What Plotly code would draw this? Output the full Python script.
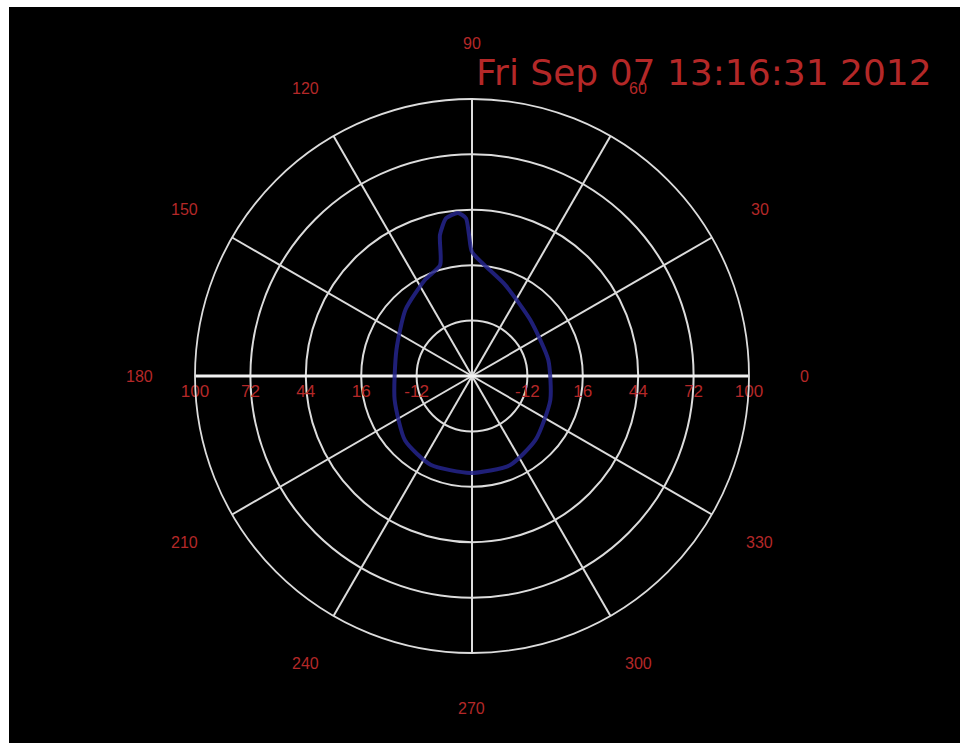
import math
import plotly.graph_objects as go

# ---- data ----
pattern_theta = [90, 91.2, 92.2, 94.9, 99.3, 102.8, 106, 116, 135, 161, 197, 224, 245, 269, 293, 315, 343, 12, 44, 70, 90]
pattern_r = [22.7, 31.2, 39.8, 42.7, 40.8, 33.1, 18.4, 14.1, 7.5, 0.4, 0.9, 7.0, 9.5, 9.0, 9.0, 5.5, 1.4, -0.6, 0.9, 9.0, 22.7]

radial_ticks = [-12, 16, 44, 72, 100]
radial_min = -40
radial_max = 100
angle_ticks = [0, 30, 60, 90, 120, 150, 180, 210, 240, 270, 300, 330]
title_text = "Fri Sep 07 13:16:31 2012"

RED = "#b42828"
GRID = "#dcdcdc"
W, H = 960, 750          # a little taller than the window; excess is cut off
CX, CY, RAD = 472, 376, 277   # polar centre / radius in pixels
dom_x = [(CX - RAD) / W, (CX + RAD) / W]
dom_y = [(H - CY - RAD) / H, (H - CY + RAD) / H]

fig = go.Figure()

# thick horizontal axis line through the centre
fig.add_trace(go.Scatterpolar(
    r=[radial_max, radial_min, radial_max], theta=[180, 0, 0],
    mode="lines", line=dict(color="#f2f2f2", width=3),
    hoverinfo="skip", showlegend=False))

# pattern curve
fig.add_trace(go.Scatterpolar(
    r=pattern_r, theta=pattern_theta, mode="lines",
    line=dict(color="rgba(36,36,140,0.85)", width=4, shape="spline", smoothing=0.6),
    showlegend=False))

# radial tick labels on both sides (invisible markers push the text down)
fig.add_trace(go.Scatterpolar(
    r=radial_ticks + radial_ticks,
    theta=[0] * len(radial_ticks) + [180] * len(radial_ticks),
    mode="markers+text", text=[str(v) for v in radial_ticks] * 2,
    textposition="bottom center", marker=dict(size=12, opacity=0),
    textfont=dict(color=RED, size=17, family="Liberation Sans"),
    cliponaxis=False, hoverinfo="skip", showlegend=False))

# angle labels at 1.2 x the outer radius (placed as paper annotations)
cx = (dom_x[0] + dom_x[1]) / 2
cy = (dom_y[0] + dom_y[1]) / 2
annotations = []
for a in angle_ticks:
    px = 1.2 * RAD * math.cos(math.radians(a))
    py = 1.2 * RAD * math.sin(math.radians(a))
    annotations.append(dict(text=str(a), xref="paper", yref="paper",
                            x=cx + px / W, y=cy + py / H,
                            xanchor="center", yanchor="middle", showarrow=False,
                            font=dict(color=RED, size=16, family="Liberation Sans")))
annotations.append(dict(text=title_text, xref="paper", yref="paper",
                        x=704 / W, y=1 - 73 / H, xanchor="center", yanchor="middle",
                        showarrow=False,
                        font=dict(color=RED, size=36, family="DejaVu Sans")))

fig.update_layout(
    width=W, height=H,
    margin=dict(l=0, r=0, t=0, b=0),
    paper_bgcolor="black",
    polar=dict(
        domain=dict(x=dom_x, y=dom_y),
        bgcolor="black",
        radialaxis=dict(range=[radial_min, radial_max], tickvals=radial_ticks,
                        showticklabels=False, ticks="", showline=False,
                        gridcolor=GRID, gridwidth=1.8, angle=0),
        angularaxis=dict(tickvals=angle_ticks, showticklabels=False, ticks="",
                         direction="counterclockwise", rotation=0,
                         gridcolor=GRID, gridwidth=1.8,
                         showline=True, linecolor=GRID, linewidth=1.8),
    ),
    shapes=[
        dict(type="rect", xref="paper", yref="paper", x0=0, x1=9 / W, y0=0, y1=1,
             fillcolor="white", line=dict(width=0), layer="above"),
        dict(type="rect", xref="paper", yref="paper", x0=0, x1=1, y0=1 - 7 / H, y1=1,
             fillcolor="white", line=dict(width=0), layer="above"),
    ],
    annotations=annotations,
)

fig.write_html(
    "out.html", config={"displayModeBar": False},
    post_script=("document.body.style.margin='0px';"
                 "document.body.style.overflow='hidden';"
                 "document.body.style.background='black';"
                 "document.documentElement.style.background='black';"))
